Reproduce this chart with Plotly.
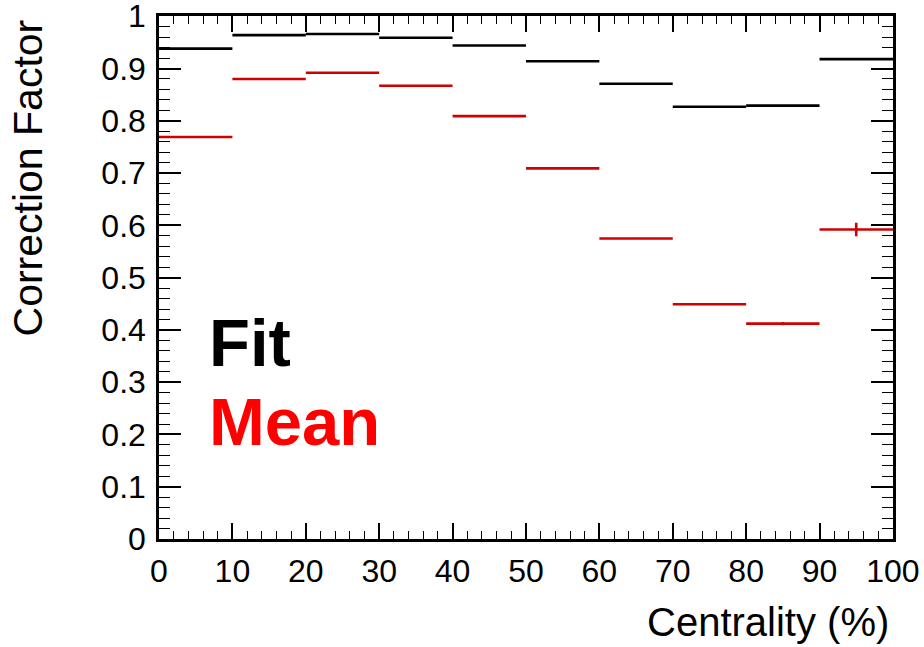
import plotly.graph_objects as go

# Centrality bins (%)
bin_low = [0, 10, 20, 30, 40, 50, 60, 70, 80, 90]
bin_high = [10, 20, 30, 40, 50, 60, 70, 80, 90, 100]

# Correction factors
fit_values = [0.938, 0.964, 0.966, 0.959, 0.944, 0.914, 0.871, 0.827, 0.829, 0.918]
mean_values = [0.769, 0.880, 0.892, 0.867, 0.809, 0.709, 0.575, 0.449, 0.412, 0.592]
mean_errors = [0.001, 0.001, 0.001, 0.001, 0.001, 0.001, 0.001, 0.001, 0.003, 0.013]

# Tick labels
x_ticks = [0, 10, 20, 30, 40, 50, 60, 70, 80, 90, 100]
x_ticklabels = ["0", "10", "20", "30", "40", "50", "60", "70", "80", "90", "100"]
y_ticks = [0, 0.1, 0.2, 0.3, 0.4, 0.5, 0.6, 0.7, 0.8, 0.9, 1.0]
y_ticklabels = ["0", "0.1", "0.2", "0.3", "0.4", "0.5", "0.6", "0.7", "0.8", "0.9", "1"]

centers = [(a + b) / 2 for a, b in zip(bin_low, bin_high)]
half_widths = [(b - a) / 2 for a, b in zip(bin_low, bin_high)]

BLACK = "#000000"
RED_LINE = "#d10000"
FONT = "Liberation Sans, Arial, Helvetica, sans-serif"

fig = go.Figure()

fig.add_trace(go.Scatter(
    x=centers, y=fit_values, mode="markers",
    marker=dict(size=1, color=BLACK),
    error_x=dict(type="data", array=half_widths, symmetric=True, width=0,
                 thickness=2.6, color=BLACK),
    showlegend=False, name="Fit", cliponaxis=False))

fig.add_trace(go.Scatter(
    x=centers, y=mean_values, mode="markers",
    marker=dict(size=1, color=RED_LINE),
    error_x=dict(type="data", array=half_widths, symmetric=True, width=0,
                 thickness=2.6, color=RED_LINE),
    error_y=dict(type="data", array=mean_errors, symmetric=True, width=0,
                 thickness=2.6, color=RED_LINE),
    showlegend=False, name="Mean", cliponaxis=False))

axis_common = dict(showline=True, linecolor=BLACK, linewidth=2.5, mirror="allticks",
                   ticks="inside", tickcolor=BLACK, tickwidth=1.6,
                   showgrid=False, zeroline=False, automargin=False,
                   ticklabeloverflow="allow",
                   tickfont=dict(family=FONT, size=32, color=BLACK))

fig.update_xaxes(range=[0, 100.01], tickvals=x_ticks, ticktext=x_ticklabels, ticklen=16,
                 minor=dict(dtick=2, tick0=0, ticklen=8, ticks="inside", tickcolor=BLACK, tickwidth=1.4),
                 ticklabelstandoff=2, **axis_common)
fig.update_yaxes(range=[0, 1.0005], tickvals=y_ticks, ticktext=y_ticklabels, ticklen=22,
                 minor=dict(dtick=0.02, tick0=0, ticklen=11, ticks="inside", tickcolor=BLACK, tickwidth=1.4),
                 ticklabelstandoff=4, **axis_common)

fig.add_annotation(text="<b>Fit</b>", x=6.6, y=0.375, xref="x", yref="y",
                   xanchor="left", yanchor="middle", showarrow=False,
                   font=dict(family=FONT, size=67, color=BLACK))
fig.add_annotation(text="<b>Mean</b>", x=6.6, y=0.225, xref="x", yref="y",
                   xanchor="left", yanchor="middle", showarrow=False,
                   font=dict(family=FONT, size=67, color="#ff0000"))

fig.add_annotation(text="Centrality (%)", x=0.997, y=-0.159, xref="paper", yref="paper",
                   xanchor="right", yanchor="middle", showarrow=False,
                   font=dict(family=FONT, size=40, color=BLACK))
fig.add_annotation(text="Correction Factor", x=-0.178, y=0.69, xref="paper", yref="paper",
                   xanchor="center", yanchor="middle", textangle=-90, showarrow=False,
                   font=dict(family=FONT, size=41, color=BLACK))

fig.update_layout(width=924, height=647,
                  margin=dict(l=159, r=31, t=16, b=108),
                  plot_bgcolor="white", paper_bgcolor="white")

fig.write_html("out.html", config={"displayModeBar": False},
               post_script="document.body.style.margin='0';document.body.style.overflow='hidden';")
